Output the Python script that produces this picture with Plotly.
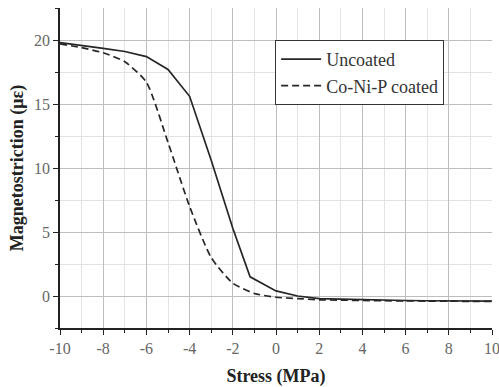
import plotly.graph_objects as go

stress = [-10, -9, -8, -7, -6, -5, -4, -3, -2, -1.2, 0, 1, 2, 3, 4, 5, 6, 7, 8, 9, 10]
uncoated = [19.8, 19.6, 19.35, 19.1, 18.7, 17.7, 15.6, 10.6, 5.3, 1.5, 0.4, 0.0, -0.2, -0.25, -0.3, -0.32, -0.35, -0.37, -0.38, -0.4, -0.4]

stress_c = [-10, -9, -8, -7, -6, -5, -4, -3, -2, -1, 0, 1, 2, 3, 4, 5, 6, 7, 8, 9, 10]
coated = [19.7, 19.4, 19.0, 18.3, 16.7, 12.0, 7.0, 3.0, 1.0, 0.2, -0.1, -0.2, -0.3, -0.32, -0.35, -0.37, -0.38, -0.4, -0.4, -0.42, -0.42]

xticks = [-10, -8, -6, -4, -2, 0, 2, 4, 6, 8, 10]
xticklabels = ["-10", "-8", "-6", "-4", "-2", "0", "2", "4", "6", "8", "10"]
yticks = [0, 5, 10, 15, 20]
yticklabels = ["0", "5", "10", "15", "20"]

serif = "Liberation Serif"

fig = go.Figure()
fig.add_trace(go.Scatter(x=stress, y=uncoated, mode="lines", name="Uncoated",
                         line=dict(color="#262626", width=1.7)))
fig.add_trace(go.Scatter(x=stress_c, y=coated, mode="lines", name="Co-Ni-P coated",
                         line=dict(color="#262626", width=1.7, dash="7px,4px", shape="spline", smoothing=0.6)))

fig.update_layout(
    width=499, height=387,
    margin=dict(l=60, r=7, t=8, b=59),
    paper_bgcolor="white", plot_bgcolor="white",
    font=dict(family=serif, color="#222"),
    legend=dict(x=0.498, y=0.9, xanchor="left", yanchor="top",
                bordercolor="#333", borderwidth=1, bgcolor="white",
                font=dict(family=serif, size=18, color="#333"),
                tracegroupgap=0, itemwidth=40),
    xaxis=dict(range=[-10, 10], tickvals=xticks, ticktext=xticklabels,
               automargin=False,
               showline=True, linecolor="#222", linewidth=1.5,
               ticks="outside", ticklen=5, tickcolor="#222",
               ticklabeloverflow="allow",
               showgrid=True, gridcolor="#bdbdbd", gridwidth=1,
               minor=dict(dtick=1, showgrid=True, gridcolor="#e3e3e3", ticks="outside", ticklen=3, tickcolor="#222"),
               zeroline=False,
               tickfont=dict(family=serif, size=16, color="#666"),
               title=dict(text="<b>Stress (MPa)</b>", font=dict(family=serif, size=18, color="#222"), standoff=14)),
    yaxis=dict(range=[-2.5, 22.5], tickvals=yticks, ticktext=yticklabels,
               automargin=False,
               showline=True, linecolor="#222", linewidth=1.5,
               ticks="outside", ticklen=5, tickcolor="#222",
               showgrid=True, gridcolor="#bdbdbd", gridwidth=1,
               minor=dict(tick0=0, dtick=2.5, showgrid=True, gridcolor="#e3e3e3", ticks="outside", ticklen=3, tickcolor="#222"),
               zeroline=False,
               tickfont=dict(family=serif, size=16, color="#666"),
               title=dict(text="<b>Magnetostriction (με)</b>", font=dict(family=serif, size=18, color="#222"), standoff=6)),
)

fig.write_html("out.html")
